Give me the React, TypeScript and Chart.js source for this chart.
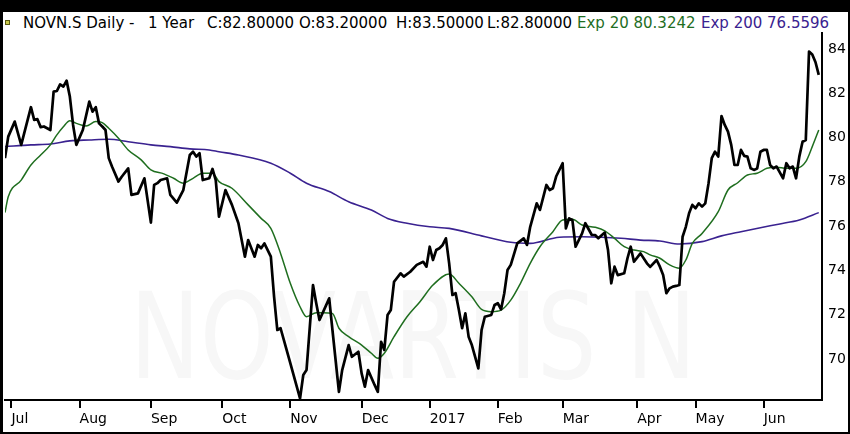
import React, { useEffect, useRef } from 'react';
import { Chart, registerables } from 'chart.js';

Chart.register(...registerables);

// Trading-day index (0 = 29 Jun 2016) and close values
const closeDays = [
  0, 1, 3, 5, 8, 9, 10, 11, 12, 14, 15, 16, 17, 18, 19, 20, 21, 22, 24, 26, 27, 28, 29, 30, 31,
  32, 33, 35, 36, 38, 39, 41, 43, 45, 46, 47, 48, 50, 51, 53, 55, 57, 58, 59, 60, 61, 63, 64, 65,
  66, 68, 70, 72, 74, 75, 77, 78, 79, 80, 82, 83, 84, 85, 86, 88, 91, 92, 93, 95, 96, 97, 100,
  101, 103, 104, 106, 107, 109, 110, 111, 112, 114, 115, 116, 117, 118, 119, 120, 122, 123, 125,
  127, 129, 130, 131, 132, 133, 134, 135, 136, 137, 138, 139, 140, 141, 142, 143, 144, 146, 147,
  148, 150, 151, 152, 153, 154, 155, 156, 158, 160, 161, 162, 164, 165, 167, 168, 169, 170, 172,
  173, 174, 175, 176, 178, 179, 181, 182, 183, 185, 186, 187, 188, 189, 191, 192, 193, 194, 196,
  198, 199, 201, 202, 203, 204, 205, 206, 207, 208, 209, 210, 211, 212, 213, 214, 215, 216, 217,
  218, 219, 220, 221, 222, 223, 224, 225, 226, 227, 228, 229, 230, 231, 232, 233, 234, 235, 236,
  237, 238, 240, 241, 242, 243, 244, 245, 246, 247, 248, 249, 250, 251,
];
const closeValues = [
  79.07, 80.04, 80.72, 79.67, 81.37, 80.8, 80.83, 80.47, 80.5, 80.34, 82.07, 82.1, 82.4, 82.3,
  82.57, 81.85, 80.57, 79.67, 80.34, 81.62, 81.17, 81.37, 80.64, 80.5, 80.34,
  79.07, 78.69, 78.01, 78.23, 78.61, 77.41, 77.48, 78.16, 76.16, 77.86, 77.94, 78.08, 78.16,
  77.41, 77.06, 77.63, 79.21, 79.36, 79.14, 79.29, 78.08, 78.16, 78.58, 78.08,
  76.43, 77.63, 76.96, 76.13, 74.62, 75.37, 74.62, 75.15, 75.0, 75.22, 74.62, 72.81, 71.31,
  71.39, 70.86, 69.81, 68.22, 69.28, 69.5, 73.34, 72.52, 71.76, 72.74,
  71.31, 68.52, 69.5, 70.63, 70.1, 70.33, 69.35, 68.75, 69.5, 68.83, 68.52, 70.78, 70.41, 71.99,
  72.21, 73.49, 73.87, 73.72, 73.94,
  74.25, 74.39, 74.17, 75.07, 74.47, 74.92, 75.0, 75.15, 75.45, 74.32, 72.89, 72.97, 72.21,
  71.39, 72.06, 71.01, 70.63, 69.58, 71.31,
  71.91, 71.99, 72.44, 72.52, 72.24, 72.97, 74.02, 74.25, 75.22, 75.45, 75.15, 75.97, 77.03,
  76.73, 77.86, 77.63, 77.71, 78.24, 78.84,
  75.9, 76.35, 76.28, 75.07, 75.67, 76.13, 75.6, 75.6, 75.45, 75.71, 74.92, 73.42, 74.17, 73.79,
  73.87, 74.55, 75.07, 74.39, 74.77,
  74.32, 74.16, 74.47, 74.17, 73.79, 72.97, 73.19, 73.27, 73.3, 73.34, 75.52, 75.97, 76.58,
  76.96, 76.81, 77.03, 76.88, 77.03, 77.93,
  79.07, 79.36, 79.14, 80.97, 80.57, 80.27, 79.67, 78.76, 78.76, 79.44, 79.17, 79.14, 78.61,
  78.54, 78.6, 79.36, 79.44, 79.44, 78.76,
  78.61, 78.69, 78.16, 78.84, 78.61, 78.69, 78.16, 79.14, 79.81, 79.89, 83.88, 83.75, 83.4, 82.83,
];

const ema20Days = [
  0, 1, 5, 8, 11, 14, 16, 18, 20, 22, 25, 28, 30, 32, 35, 38, 42, 45, 49, 52, 55, 58, 61, 64, 66,
  70, 75, 79, 82, 85, 88, 91, 93, 96, 98, 101, 103, 106, 110, 113, 115, 117, 120, 124, 128, 132,
  137, 140, 144, 147, 150, 153, 156, 159, 162, 165, 169, 172, 175, 178, 182, 185, 188, 191, 194,
  197, 199, 202, 205, 208, 210, 212, 215, 220, 223, 226, 229, 232, 235, 238, 241, 244, 247, 249,
  251,
];
const ema20Values = [
  76.61, 77.33, 78.08, 78.76, 79.21, 79.67, 80.12, 80.49, 80.76, 80.64, 80.52, 80.72, 80.67,
  80.42, 79.97, 79.44, 78.99, 78.54, 78.36, 78.16, 77.94, 78.16, 78.39, 78.39, 78.01,
  77.71, 76.96, 76.35, 75.9, 74.77, 73.42, 72.36, 71.91, 72.09, 72.09, 72.06, 71.39, 71.01,
  70.63, 70.26, 70.03, 70.26, 71.01, 71.91, 72.59, 73.34,
  73.84, 73.42, 72.81, 72.24, 72.14, 72.21, 72.66, 73.42, 74.32, 75.07, 75.75, 76.28, 76.31,
  76.05, 75.95, 75.79, 75.45, 75.07, 74.92,
  74.85, 74.7, 74.55, 74.25, 74.1, 74.47, 75.22, 75.67, 76.65, 77.63, 77.96, 78.31, 78.39,
  78.61, 78.66, 78.61, 78.61, 78.91, 79.59,
  80.34,
];

const ema200Days = [
  0, 8, 14, 20, 26, 32, 38, 45, 51, 57, 63, 66, 72, 82, 88, 93, 100, 106, 113, 118, 124, 131,
  137, 147, 156, 162, 171, 178, 184, 190, 196, 202, 208, 215, 221, 227, 233, 239, 245, 251,
];
const ema200Values = [
  79.59, 79.67, 79.71, 79.85, 79.89, 79.92, 79.81, 79.67, 79.59, 79.49, 79.44, 79.36, 79.21,
  78.84, 78.39, 77.94, 77.56, 77.1, 76.73, 76.35, 76.13, 75.97,
  75.9, 75.56, 75.27, 75.22, 75.5, 75.52, 75.5, 75.45, 75.37, 75.33, 75.19, 75.3, 75.56, 75.75,
  75.93, 76.1, 76.28, 76.61,
];

const monthTickDays = [2, 23, 45, 67, 88, 110, 131, 152, 172, 195, 213, 234];
const monthTickLabels = ['Jul', 'Aug', 'Sep', 'Oct', 'Nov', 'Dec', '2017', 'Feb', 'Mar', 'Apr', 'May', 'Jun'];
const priceTicks = [70, 72, 74, 76, 78, 80, 82, 84];

const FONT = '"DejaVu Sans", "Noto Sans", sans-serif';
const GREEN = '#1f6e1f';
const PURPLE = '#3a2290';

const headerParts = [
  { text: 'NOVN.S Daily -', left: 23, color: '#000' },
  { text: '1 Year', left: 148, color: '#000' },
  { text: 'C:82.80000', left: 207, color: '#000' },
  { text: 'O:83.20000', left: 299, color: '#000' },
  { text: 'H:83.50000', left: 396, color: '#000' },
  { text: 'L:82.80000', left: 487, color: '#000' },
  { text: 'Exp 20 80.3242', left: 577, color: GREEN },
  { text: 'Exp 200 76.5596', left: 701, color: PURPLE },
];

export default function App() {
  const ref = useRef<HTMLCanvasElement>(null);

  useEffect(() => {
    document.body.style.margin = '0';
    const canvas = ref.current;
    if (!canvas) return;
    const chart = new Chart(canvas, {
      type: 'line',
      data: {
        datasets: [
          {
            label: 'NOVN.S',
            data: closeDays.map((d, i) => ({ x: d, y: closeValues[i] })),
            borderColor: '#000',
            borderWidth: 2.7,
            pointRadius: 0,
            tension: 0,
            borderJoinStyle: 'round',
          },
          {
            label: 'Exp 20',
            data: ema20Days.map((d, i) => ({ x: d, y: ema20Values[i] })),
            borderColor: GREEN,
            borderWidth: 1.5,
            pointRadius: 0,
            cubicInterpolationMode: 'monotone',
          },
          {
            label: 'Exp 200',
            data: ema200Days.map((d, i) => ({ x: d, y: ema200Values[i] })),
            borderColor: PURPLE,
            borderWidth: 1.6,
            pointRadius: 0,
            cubicInterpolationMode: 'monotone',
          },
        ],
      },
      options: {
        animation: false,
        responsive: false,
        maintainAspectRatio: false,
        layout: { padding: { left: 5, top: 33, right: 0, bottom: 0 } },
        plugins: { legend: { display: false }, tooltip: { enabled: false } },
        scales: {
          x: {
            type: 'linear',
            position: 'bottom',
            min: 0,
            max: 252,
            afterBuildTicks: (s: any) => {
              s.ticks = monthTickDays.map((v) => ({ value: v }));
            },
            afterFit: (s: any) => {
              s.height = 34;
            },
            ticks: {
              autoSkip: false,
              maxRotation: 0,
              align: 'start',
              padding: 3,
              color: '#000',
              font: { family: FONT, size: 14 },
              callback: (v: any) => {
                const k = monthTickDays.indexOf(Number(v));
                return k >= 0 ? monthTickLabels[k] : '';
              },
            },
            grid: {
              drawOnChartArea: false,
              drawTicks: true,
              tickLength: 8,
              color: '#000',
              lineWidth: 2,
            },
            border: { display: true, color: '#000', width: 2 },
          },
          y: {
            position: 'right',
            min: 68.15,
            max: 84.72,
            afterBuildTicks: (s: any) => {
              s.ticks = priceTicks.map((v) => ({ value: v }));
            },
            afterFit: (s: any) => {
              s.width = 28;
            },
            ticks: {
              padding: 6,
              color: '#000',
              font: { family: FONT, size: 14 },
            },
            grid: { display: false, drawTicks: false, tickLength: 0 },
            border: { display: true, color: '#000', width: 2 },
          },
        },
      },
    } as any);
    return () => chart.destroy();
  }, []);

  return (
    <div style={{ position: 'relative', width: 850, height: 434, background: '#000', overflow: 'hidden' }}>
      <div style={{ position: 'absolute', left: 3, top: 12, width: 845, height: 420, background: '#fff' }} />
      <div
        style={{
          position: 'absolute',
          left: 130,
          top: 277,
          fontFamily: FONT,
          fontSize: 120,
          lineHeight: '120px',
          color: '#f7f7f7',
          whiteSpace: 'nowrap',
          transform: 'scaleX(0.78)',
          transformOrigin: 'left top',
        }}
      >
        NOVARTIS N
      </div>
      <div
        style={{
          position: 'absolute',
          left: 5,
          top: 20,
          width: 3,
          height: 3,
          background: '#c9c94a',
          border: '1px solid #5b5b12',
        }}
      />
      {headerParts.map((p) => (
        <div
          key={p.text}
          style={{
            position: 'absolute',
            left: p.left,
            top: 16,
            fontFamily: FONT,
            fontSize: 15,
            lineHeight: '15px',
            color: p.color,
            whiteSpace: 'nowrap',
          }}
        >
          {p.text}
        </div>
      ))}
      <canvas
        ref={ref}
        width={850}
        height={434}
        style={{ position: 'absolute', left: 0, top: 0, width: 850, height: 434 }}
      />
    </div>
  );
}
